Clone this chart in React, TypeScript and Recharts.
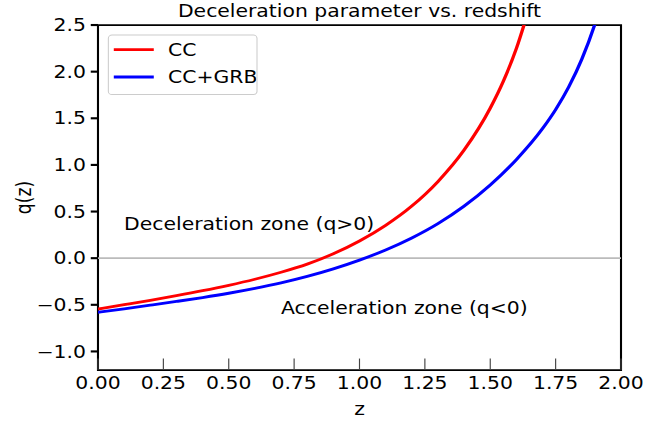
import React from 'react';
import {
  LineChart,
  Line,
  XAxis,
  YAxis,
  ReferenceLine,
  ReferenceArea,
  ReferenceDot,
  Legend,
  Label,
  Customized,
} from 'recharts';

// ---------- data ----------
const zCC = [0, 0.1, 0.2, 0.3, 0.4, 0.5, 0.6, 0.7, 0.8, 0.9, 1.0, 1.1, 1.2, 1.3, 1.4, 1.5, 1.55, 1.6, 1.65];
const qCC = [-0.545, -0.499, -0.452, -0.402, -0.349, -0.291, -0.226, -0.151, -0.064, 0.047, 0.184, 0.352, 0.559, 0.822, 1.159, 1.609, 1.897, 2.249, 2.694];

const zGRB = [0, 0.1, 0.2, 0.3, 0.4, 0.5, 0.6, 0.7, 0.8, 0.9, 1.0, 1.1, 1.2, 1.3, 1.4, 1.5, 1.6, 1.7, 1.75, 1.8, 1.85, 1.9, 1.95];
const qGRB = [-0.58, -0.543, -0.504, -0.464, -0.422, -0.376, -0.324, -0.265, -0.196, -0.115, -0.021, 0.088, 0.217, 0.371, 0.558, 0.785, 1.058, 1.39, 1.593, 1.835, 2.133, 2.508, 2.99];

const seriesNames = ['CC', 'CC+GRB'];
const seriesColors = ['#ff0000', '#0000ff'];

const xTicks = [0, 0.25, 0.5, 0.75, 1.0, 1.25, 1.5, 1.75, 2.0];
const yTicks = [-1.0, -0.5, 0.0, 0.5, 1.0, 1.5, 2.0, 2.5];

const titleText = 'Deceleration parameter vs. redshift';
const xLabelText = 'z';
const yLabelText = 'q(z)';

const annotZ = [0.1, 0.7];
const annotQ = [0.3, -0.6];
const annotText = ['Deceleration zone (q>0)', 'Acceleration zone (q<0)'];

const ccData = zCC.map((z, i) => ({ z, q: qCC[i] }));
const grbData = zGRB.map((z, i) => ({ z, q: qGRB[i] }));

// ---------- style ----------
const FONT = '"DejaVu Sans", Verdana, sans-serif';
const FS = 19.44;
const W = 640;
const H = 480;

const fmtY = (v: number) => (v < 0 ? '\u2212' + Math.abs(v).toFixed(1) : v.toFixed(1));

const XTick = (props: any) => {
  const { x, y, payload } = props;
  return (
    <g>
      <line x1={x} x2={x} y1={y} y2={y - 13} stroke="#444" strokeWidth={1.1} />
      <text x={x} y={y + 21} textAnchor="middle" fontFamily={FONT} fontSize={FS} fill="#000">
        {Number(payload.value).toFixed(2)}
      </text>
    </g>
  );
};

const YTick = (props: any) => {
  const { x, y, payload } = props;
  return (
    <g>
      <line x1={x - 6.9} x2={x} y1={y} y2={y} stroke="#000" strokeWidth={2.4} />
      <text x={x - 11.6} y={y} dy="0.36em" textAnchor="end" fontFamily={FONT} fontSize={FS} fill="#000">
        {fmtY(Number(payload.value))}
      </text>
    </g>
  );
};

const LegendBox = (props: any) => {
  const payload = props && props.payload && props.payload.length ? props.payload : null;
  const items = payload
    ? payload.map((p: any) => ({ name: p.value, color: p.color }))
    : seriesNames.map((n, i) => ({ name: n, color: seriesColors[i] }));
  return (
    <div
      style={{
        width: 143,
        height: 67.6,
        boxSizing: 'border-box',
        border: '1px solid #cccccc',
        borderRadius: 4,
        background: 'rgba(255,255,255,0.8)',
      }}
    >
      <svg width={141} height={65.6} style={{ display: 'block' }}>
        {items.map((it: any, i: number) => {
          const cy = 16 + i * 30.8;
          return (
            <g key={it.name}>
              <line x1={4.7} x2={42.9} y1={cy} y2={cy} stroke={it.color} strokeWidth={3.2} />
              <text x={56.6} y={cy + 7.1} fontFamily={FONT} fontSize={FS} fill="#000">
                {it.name}
              </text>
            </g>
          );
        })}
      </svg>
    </div>
  );
};

const Title = () => (
  <text x={343.4} y={19.5} textAnchor="middle" fontFamily={FONT} fontSize={FS} fill="#000">
    {titleText}
  </text>
);

const annotLabel = (text: string) => (p: any) => {
  const vb = p.viewBox || {};
  return (
    <text x={vb.x} y={vb.y} textAnchor="start" fontFamily={FONT} fontSize={FS} fill="#000">
      {text}
    </text>
  );
};

export default function App() {
  return (
    <div
      style={{
        position: 'absolute',
        left: 0,
        top: 0,
        width: W,
        height: H,
        transform: 'scale(1.046875, 0.8875)',
        transformOrigin: '0 0',
        background: '#fff',
      }}
    >
      <LineChart width={W} height={H} margin={{ top: 28.2, right: 46.8, bottom: 33, left: 33.6 }}>
        <XAxis
          type="number"
          dataKey="z"
          domain={[0, 2]}
          ticks={xTicks}
          interval={0}
          allowDataOverflow
          axisLine={false}
          tickLine={false}
          tickSize={0}
          tickMargin={0}
          height={30}
          tick={XTick}
        >
          <Label
            content={(p: any) => {
              const vb = p.viewBox || {};
              return (
                <text x={vb.x + vb.width / 2} y={vb.y + 51} textAnchor="middle" fontFamily={FONT} fontSize={FS} fill="#000">
                  {xLabelText}
                </text>
              );
            }}
          />
        </XAxis>
        <YAxis
          type="number"
          domain={[-1.2, 2.5]}
          ticks={yTicks}
          interval={0}
          allowDataOverflow
          axisLine={false}
          tickLine={false}
          tickSize={0}
          tickMargin={0}
          width={60}
          tick={YTick}
        >
          <Label
            content={(p: any) => {
              const vb = p.viewBox || {};
              const cx = 29.5;
              const cy = vb.y + vb.height / 2;
              return (
                <text x={cx} y={cy} textAnchor="middle" transform={`rotate(-90, ${cx}, ${cy})`} fontFamily={FONT} fontSize={FS} fill="#000">
                  {yLabelText}
                </text>
              );
            }}
          />
        </YAxis>
        <ReferenceLine y={0} stroke="#bbbbbb" strokeWidth={2} />
        <Line
          data={ccData}
          dataKey="q"
          name={seriesNames[0]}
          type="monotone"
          stroke={seriesColors[0]}
          strokeWidth={3.2}
          dot={false}
          activeDot={false}
          isAnimationActive={false}
        />
        <Line
          data={grbData}
          dataKey="q"
          name={seriesNames[1]}
          type="monotone"
          stroke={seriesColors[1]}
          strokeWidth={3.2}
          dot={false}
          activeDot={false}
          isAnimationActive={false}
        />
        {annotText.map((t, i) => (
          <ReferenceDot key={t} x={annotZ[i]} y={annotQ[i]} r={0} fill="none" stroke="none" label={annotLabel(t)} />
        ))}
        <ReferenceArea x1={0} x2={2} y1={-1.2} y2={2.5} fill="none" fillOpacity={0} stroke="#000" strokeWidth={2} />
        <Legend
          layout="vertical"
          align="center"
          verticalAlign="middle"
          wrapperStyle={{ left: 103.2, top: 39.4, width: 143, height: 67.6 }}
          content={LegendBox}
        />
        <Customized component={Title} />
      </LineChart>
    </div>
  );
}
